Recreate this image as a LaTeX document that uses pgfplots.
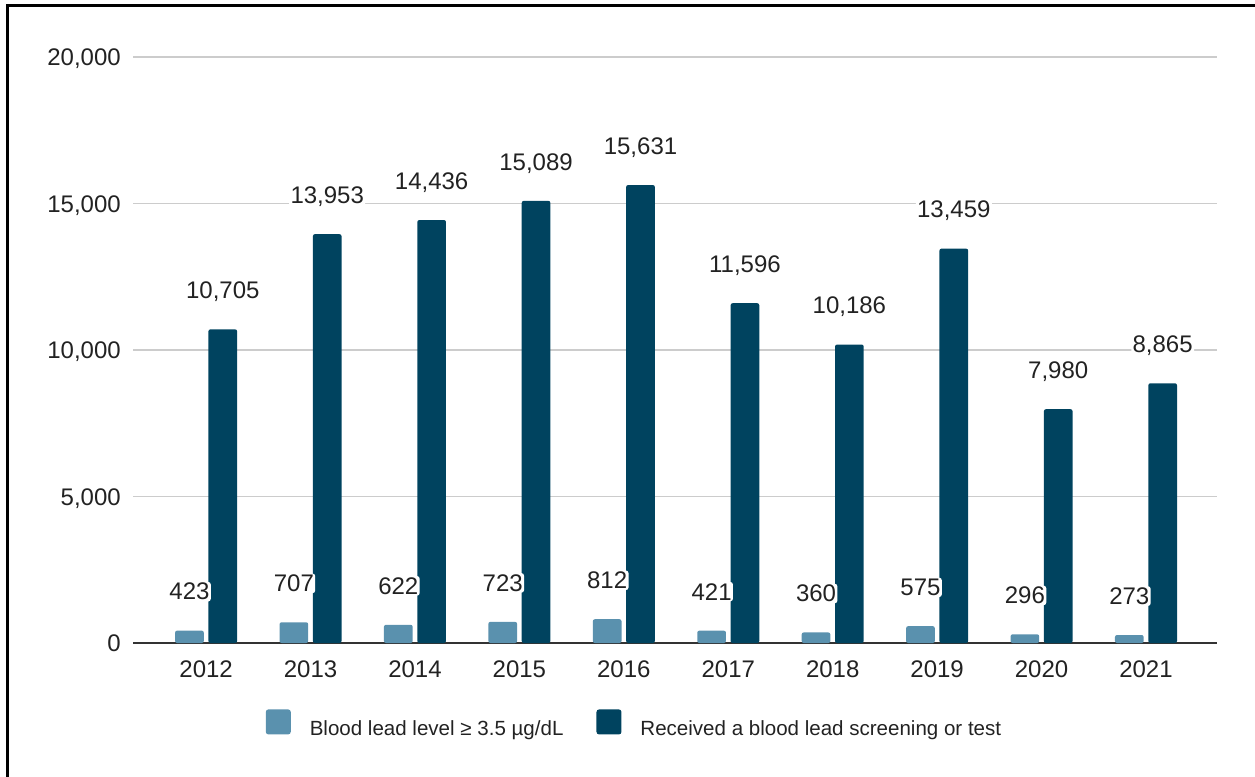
\documentclass[border=0pt]{standalone}
\usepackage{fontspec}
\setmainfont{Liberation Sans}
\usepackage{pgfplots}
\pgfplotsset{compat=1.18}
\definecolor{lightbar}{HTML}{5A91AE}
\definecolor{darkbar}{HTML}{00435F}
\definecolor{gridgray}{HTML}{CCCCCC}
\definecolor{axisgray}{HTML}{333333}
\definecolor{txt}{HTML}{222222}
\begin{document}
\begin{tikzpicture}
\useasboundingbox (0,0) rectangle (941.25pt,582pt);
\draw[line width=2.25pt, line cap=rect] (5.25pt,0) -- (5.25pt,577.7pt) -- (941.25pt,577.7pt);
\begin{axis}[
  at={(99.75pt,99.75pt)}, anchor=south west,
  scale only axis, width=813pt, height=439.5pt,
  ybar, bar width=21.5pt,
  xmin=-0.7, xmax=9.68, ymin=0, ymax=20000,
  xtick={0,...,9},
  xticklabels={2012,2013,2014,2015,2016,2017,2018,2019,2020,2021},
  ytick={0,5000,10000,15000,20000},
  scaled y ticks=false,
  /pgf/number format/.cd, 1000 sep={,}, assume math mode=true, /pgfplots/.cd,
  axis line style={draw=none},
  major tick length=0pt,
  ymajorgrids,
  grid style={color=gridgray, line width=1.1pt},
  extra y ticks={0},
  extra y tick labels={},
  extra y tick style={grid style={color=axisgray, line width=1.5pt}},
  ticklabel style={font=\fontsize{18}{20}\selectfont, text=txt, inner sep=0pt},
  yticklabel style={anchor=base east, xshift=-9pt, yshift=-6.45pt},
  xticklabel style={anchor=north, yshift=-12.75pt},
  every node near coord/.append style={font=\fontsize{18}{20}\selectfont, text=txt, anchor=base, fill=white, inner sep=1pt, rounded corners=2pt, yshift=23pt},
  legend columns=2,
  legend image code/.code={\fill[#1, rounded corners=2pt] (0pt,-3.9pt) rectangle (18.75pt,14.9pt);},
  legend style={at={(0.4617,0)}, anchor=center, yshift=-60.4pt, draw=none, fill=none,
    font=\fontsize{15.4}{17}\selectfont, text=txt,
    nodes={inner sep=0pt},
    column sep=0pt,
    /tikz/every odd column/.append style={column sep=14.25pt},
    /tikz/every even column/.append style={column sep=24.75pt}},
]
\addplot[fill=lightbar, draw=none, bar shift=-12.5pt, rounded corners=1.5pt] coordinates {
  (0,423) (1,707) (2,622) (3,723) (4,812) (5,421) (6,360) (7,575) (8,296) (9,273)};
\addplot[fill=darkbar, draw=none, bar shift=12.5pt, rounded corners=1.5pt, nodes near coords] coordinates {
  (0,10705) (1,13953) (2,14436) (3,15089) (4,15631) (5,11596) (6,10186) (7,13459) (8,7980) (9,8865)};
\addplot[draw=none, fill=none, bar shift=-12.5pt, forget plot, nodes near coords] coordinates {
  (0,423) (1,707) (2,622) (3,723) (4,812) (5,421) (6,360) (7,575) (8,296) (9,273)};
\legend{Blood lead level ≥ 3.5 µg/dL, Received a blood lead screening or test}
\end{axis}
\end{tikzpicture}
\end{document}
